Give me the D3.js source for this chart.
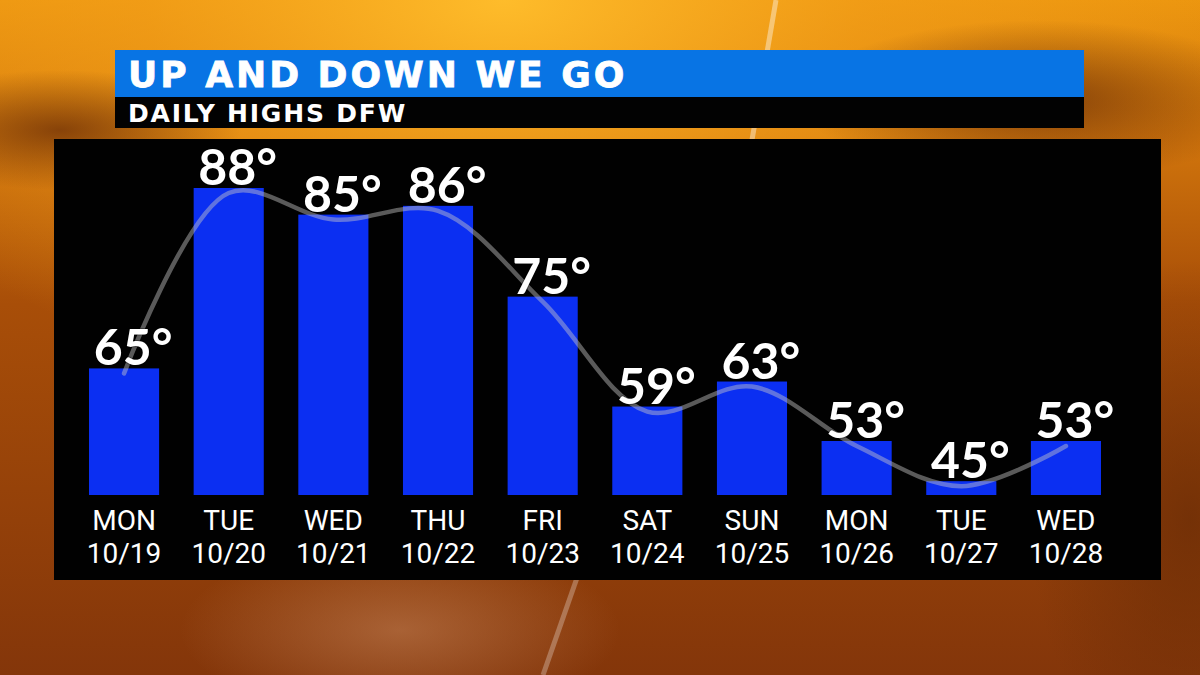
<!DOCTYPE html>
<html>
  <head>
    <meta http-equiv="Content-type" content="text/html; charset=utf-8">
    <title>Up and Down We Go</title>
    <script src="https://d3js.org/d3.v7.min.js"></script>
    <style>
      html, body { margin: 0; padding: 0; background: #000; overflow: hidden; }
    </style>
  </head>
  <body>
  <div id="chart"></div>
  <script type="text/javascript">
    // daily highs, DFW
    var days = ['MON', 'TUE', 'WED', 'THU', 'FRI', 'SAT', 'SUN', 'MON', 'TUE', 'WED'];
    var dates = ['10/19', '10/20', '10/21', '10/22', '10/23', '10/24', '10/25', '10/26', '10/27', '10/28'];
    var highs = [65, 88, 85, 86, 75, 59, 63, 53, 45, 53];

    var title = 'UP AND DOWN WE GO';
    var subtitle = 'DAILY HIGHS DFW';

    var width = 1200;
    var height = 675;

    var svg = d3.select('#chart')
      .append('svg')
      .attr('width', width)
      .attr('height', height);

    var defs = svg.append('defs');

    // sunset sky behind everything
    var sky = defs.append('linearGradient')
      .attr('id', 'sky').attr('x1', 0).attr('y1', 0).attr('x2', 0).attr('y2', 1);
    sky.append('stop').attr('offset', '0%').attr('stop-color', '#ec960f');
    sky.append('stop').attr('offset', '20%').attr('stop-color', '#d2760c');
    sky.append('stop').attr('offset', '45%').attr('stop-color', '#a84e08');
    sky.append('stop').attr('offset', '100%').attr('stop-color', '#84360a');

    var sun = defs.append('radialGradient')
      .attr('id', 'sun').attr('cx', 0.42).attr('cy', 0).attr('r', 0.6);
    sun.append('stop').attr('offset', '0%').attr('stop-color', '#ffbe2c').attr('stop-opacity', 0.95);
    sun.append('stop').attr('offset', '50%').attr('stop-color', '#f4a01a').attr('stop-opacity', 0.6);
    sun.append('stop').attr('offset', '100%').attr('stop-color', '#f4a01a').attr('stop-opacity', 0);

    var cloud = defs.append('radialGradient')
      .attr('id', 'cloud').attr('cx', 0.5).attr('cy', 0.5).attr('r', 0.5);
    cloud.append('stop').attr('offset', '0%').attr('stop-color', '#6a2c06').attr('stop-opacity', 0.75);
    cloud.append('stop').attr('offset', '100%').attr('stop-color', '#6a2c06').attr('stop-opacity', 0);

    var haze = defs.append('radialGradient')
      .attr('id', 'haze').attr('cx', 0.5).attr('cy', 0.5).attr('r', 0.5);
    haze.append('stop').attr('offset', '0%').attr('stop-color', '#c98a60').attr('stop-opacity', 0.5);
    haze.append('stop').attr('offset', '100%').attr('stop-color', '#c98a60').attr('stop-opacity', 0);

    svg.append('rect').attr('width', width).attr('height', height).attr('fill', 'url(#sky)');
    svg.append('rect').attr('width', width).attr('height', height).attr('fill', 'url(#sun)');
    svg.append('ellipse').attr('cx', 1040).attr('cy', 100).attr('rx', 240).attr('ry', 80).attr('fill', 'url(#cloud)');
    svg.append('ellipse').attr('cx', 60).attr('cy', 130).attr('rx', 180).attr('ry', 60).attr('fill', 'url(#cloud)');
    svg.append('ellipse').attr('cx', 1190).attr('cy', 520).attr('rx', 160).attr('ry', 260).attr('fill', 'url(#cloud)');
    svg.append('ellipse').attr('cx', 400).attr('cy', 630).attr('rx', 220).attr('ry', 90).attr('fill', 'url(#haze)');

    // light streaks
    svg.append('line')
      .attr('x1', 776).attr('y1', 0).attr('x2', 752).attr('y2', 140)
      .attr('stroke', 'rgba(255,255,255,0.4)').attr('stroke-width', 5);
    svg.append('line')
      .attr('x1', 578).attr('y1', 575).attr('x2', 543).attr('y2', 675)
      .attr('stroke', 'rgba(255,255,255,0.28)').attr('stroke-width', 5);

    // header bars
    var header = { x: 115, w: 969 };
    svg.append('rect')
      .attr('x', header.x).attr('y', 50).attr('width', header.w).attr('height', 47)
      .attr('fill', '#0874e4');
    svg.append('rect')
      .attr('x', header.x).attr('y', 97).attr('width', header.w).attr('height', 31)
      .attr('fill', '#020202');

    svg.append('text')
      .attr('x', 128).attr('y', 87)
      .attr('fill', '#fff')
      .style('font-family', '"DejaVu Sans", sans-serif')
      .style('font-weight', 700)
      .style('font-size', '36px')
      .style('letter-spacing', '3px')
      .style('stroke', '#fff')
      .style('stroke-width', '0.8px')
      .text(title);

    svg.append('text')
      .attr('x', 128).attr('y', 122)
      .attr('fill', '#fff')
      .style('font-family', '"DejaVu Sans", sans-serif')
      .style('font-weight', 700)
      .style('font-size', '25px')
      .style('letter-spacing', '1.8px')
      .text(subtitle);

    // chart panel
    svg.append('rect')
      .attr('x', 54).attr('y', 139).attr('width', 1107).attr('height', 441)
      .attr('fill', '#010101');

    var idx = d3.range(highs.length);

    var x = d3.scaleBand()
      .domain(idx)
      .range([89, 1101])
      .paddingInner(0.33)
      .paddingOuter(0);

    // the graphic's bars are not linear in temperature; a square scale fits them
    var y = d3.scalePow()
      .exponent(2)
      .domain([41.9, 88])
      .range([495, 188]);

    svg.append('g')
      .selectAll('rect')
      .data(idx)
      .enter()
      .append('rect')
      .attr('x', function(i) { return x(i); })
      .attr('y', function(i) { return y(highs[i]); })
      .attr('width', x.bandwidth())
      .attr('height', function(i) { return y.range()[0] - y(highs[i]); })
      .attr('fill', '#0b2ff2');

    // trend ribbon
    var line = d3.line()
      .x(function(i) { return x(i) + x.bandwidth() / 2; })
      .y(function(i) { return y(highs[i]) + 5; })
      .curve(d3.curveCatmullRom.alpha(0.5));

    svg.append('path')
      .attr('d', line(idx))
      .attr('fill', 'none')
      .attr('stroke', 'rgba(200,200,200,0.45)')
      .attr('stroke-width', 4.5)
      .attr('stroke-linecap', 'round');

    // value labels
    svg.append('g')
      .selectAll('text')
      .data(idx)
      .enter()
      .append('text')
      .attr('x', function(i) { return x(i) + x.bandwidth() / 2 + 9; })
      .attr('y', function(i) { return y(highs[i]) - 3; })
      .attr('text-anchor', 'middle')
      .attr('fill', '#fff')
      .style('font-family', 'Lato, sans-serif')
      .style('font-weight', 700)
      .style('font-size', '50px')
      .style('paint-order', 'stroke')
      .style('stroke', 'rgba(0,0,0,0.35)')
      .style('stroke-width', '2px')
      .text(function(i) { return highs[i] + '°'; });

    // day / date labels
    var g = svg.append('g')
      .attr('fill', '#fff')
      .attr('text-anchor', 'middle')
      .style('font-family', 'Roboto, sans-serif')
      .style('font-size', '28px');

    g.selectAll('text.day')
      .data(idx)
      .enter()
      .append('text')
      .attr('class', 'day')
      .attr('x', function(i) { return x(i) + x.bandwidth() / 2; })
      .attr('y', 530)
      .text(function(i) { return days[i]; });

    g.selectAll('text.date')
      .data(idx)
      .enter()
      .append('text')
      .attr('class', 'date')
      .attr('x', function(i) { return x(i) + x.bandwidth() / 2; })
      .attr('y', 563)
      .text(function(i) { return dates[i]; });
  </script>
  </body>
</html>
